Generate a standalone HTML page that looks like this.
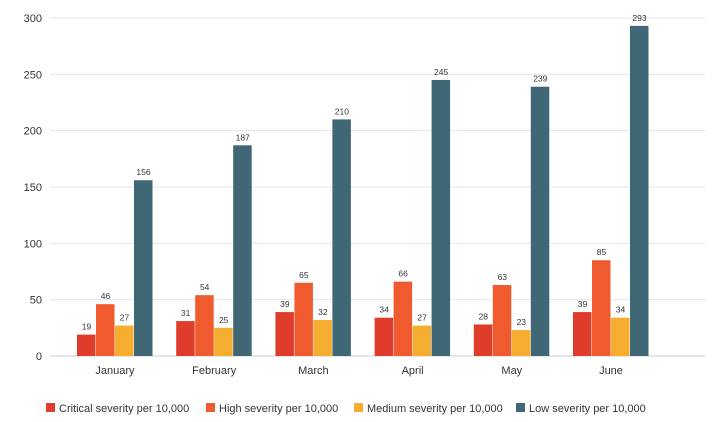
<!DOCTYPE html>
<html><head><meta charset="utf-8"><style>
body{margin:0;background:#fff;font-family:"Liberation Sans",sans-serif}
svg text{font-family:"Liberation Sans",sans-serif;fill:#333}
</style></head><body>
<svg id="chart" width="720" height="417" viewBox="0 0 720 417"></svg>
<script>
const categories=["January","February","March","April","May","June"];
const critical=[19,31,39,34,28,39];
const high=[46,54,65,66,63,85];
const medium=[27,25,32,27,23,34];
const low=[156,187,210,245,239,293];
const yTicks=[0,50,100,150,200,250,300];
const seriesNames=["Critical severity per 10,000","High severity per 10,000","Medium severity per 10,000","Low severity per 10,000"];
const colors=["#e03c2c","#ef5a2f","#f4ad2e","#3f6775"];
const svg=document.getElementById('chart');
const NS="http://www.w3.org/2000/svg";
const y0=356,yTop=18,yMax=300;
function y(v){return y0-(v/yMax)*(y0-yTop);}
const gx0=77,gStep=99.2,bw=19;
function x(i,s){return gx0+i*gStep+s*bw;}
function mk(tag,attrs){const e=document.createElementNS(NS,tag);for(const k in attrs)e.setAttribute(k,attrs[k]);svg.appendChild(e);return e;}
yTicks.forEach(t=>{
 const l=mk('line',{x1:50,x2:705,y1:y(t),y2:y(t),stroke:t===0?'#ccc':'#e6e6e6','stroke-width':1});
 
 
 const tx=mk('text',{x:42,y:y(t)+4,'text-anchor':'end','font-size':11});
 tx.textContent=t;
 
 
});
const series=[critical,high,medium,low];
categories.forEach((c,i)=>{
 series.forEach((arr,s)=>{
  const r=mk('rect',{x:x(i,s),y:y(arr[i]),width:bw-0.5,height:y0-y(arr[i]),fill:colors[s]});
  
  
  const t=mk('text',{x:x(i,s)+bw/2,y:y(arr[i])-5,'text-anchor':'middle','font-size':8.5});
  t.textContent=arr[i];
  
  
 });
 const lb=mk('text',{x:x(i,2),y:374,'text-anchor':'middle','font-size':11});
 lb.textContent=c;
 
 
});
const legX=[46,206,354,516];
seriesNames.forEach((n,s)=>{
 const r=mk('rect',{x:legX[s],y:403,width:9,height:9,fill:colors[s]});
 
 
 const t=mk('text',{x:legX[s]+13,y:412,'font-size':11});
 t.textContent=n;
 
 
});
</script>
</body></html>
